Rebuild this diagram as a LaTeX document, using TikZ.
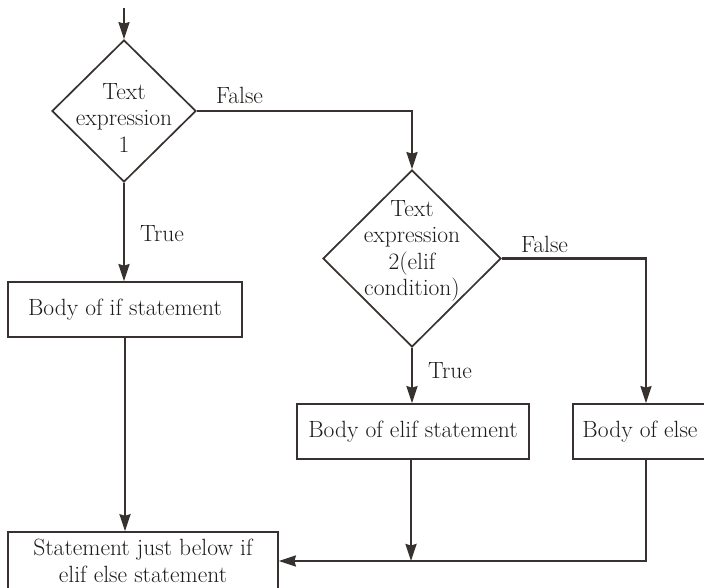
\documentclass[tikz,border=0pt]{standalone}
\usetikzlibrary{shapes.geometric,arrows.meta}
\definecolor{linec}{RGB}{55,50,48}
\definecolor{textc}{RGB}{30,28,26}
\begin{document}
\begin{tikzpicture}[x=1pt,y=1pt,
  txt/.style={font=\fontsize{23.5}{26.3}\selectfont, text=textc, inner sep=0pt},
  boxnode/.style={txt, draw=linec, line width=1.7pt, rectangle, minimum height=55pt},
  decision/.style={draw=linec, line width=1.7pt, diamond, inner sep=0pt},
  flow/.style={draw=linec, line width=2.3pt, -{Stealth[length=17pt,width=11pt,inset=1.5pt]}},
  lbl/.style={txt}
]
\useasboundingbox (0,0) rectangle (704,-588);

\coordinate (s) at (124,-8);
\node[decision, minimum width=144pt, minimum height=142pt] (d1) at (124,-111) {};
\node[txt, align=center, anchor=north] (t1) at (124,-83.5) {Text\\expression\\1};

\node[decision, minimum width=178pt, minimum height=177pt] (d2) at (412,-258.5) {};
\node[txt, align=center, anchor=north] (t2) at (412,-200.5) {Text\\expression\\2(elif\\condition)};

\node[boxnode, minimum width=234pt] (b1) at (125,-309.5) {Body of if statement};
\node[boxnode, minimum width=232pt] (b2) at (413,-431.5) {Body of elif statement};
\node[boxnode, minimum width=134pt] (b3) at (640,-431.5) {Body of else};
\node[boxnode, minimum width=270pt, minimum height=57.8pt, align=center,
      font=\fontsize{23.5}{27}\selectfont] (b4) at (143,-561) {Statement just below if\\elif else statement};

\node[lbl] (f1) at (239.5,-95) {False};
\node[lbl] (tr1) at (162,-234) {True};
\node[lbl] (f2) at (544.5,-244) {False};
\node[lbl] (tr2) at (450,-371) {True};

\draw[flow] (s) -- (d1.north);
\draw[flow] (d1.east) -| (d2.north);
\draw[flow] (d1.south) -- (b1.north -| d1.south);
\draw[flow] (b1.south) -- (b1.south |- b4.north);
\draw[flow] (d2.south) -- (b2.north -| d2.south);
\draw[flow] (d2.east) -| ([xshift=6pt]b3.north);
\coordinate (j) at ([xshift=-2pt]b2.south |- b4.east);
\draw[flow] ([xshift=-2pt]b2.south) -- (j);
\draw[flow] ([xshift=6pt]b3.south) |- (b4.east);
\end{tikzpicture}
\end{document}
